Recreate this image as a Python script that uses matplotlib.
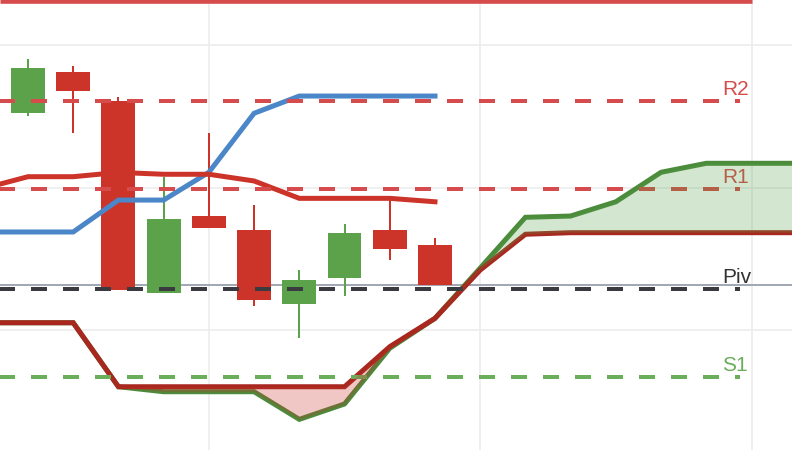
import numpy as np
import matplotlib
matplotlib.use("Agg")
import matplotlib.pyplot as plt
import matplotlib.transforms as mtransforms

plt.rcParams['lines.scale_dashes'] = False
plt.rcParams['font.family'] = ['Liberation Sans', 'DejaVu Sans']

# ---- data ----
candle_idx = [0, 1, 2, 3, 4, 5, 6, 7, 8, 9]
opens  = [115.25, 118.11, 116.09, 102.62, 108.00, 107.02, 101.85, 103.67, 107.02, 105.96]
highs  = [119.02, 118.53, 116.33, 110.76, 113.85, 108.77, 104.21, 107.44, 109.12, 106.46]
lows   = [115.04, 113.85, 102.83, 102.62, 107.16, 101.71, 99.42, 102.41, 104.93, 103.16]
closes = [118.39, 116.79, 102.83, 107.79, 107.16, 102.13, 103.51, 106.81, 105.71, 103.16]

line_idx = [-1, 0, 1, 2, 3, 4, 5, 6, 7, 8, 9]
blue_line = [106.88, 106.88, 106.88, 109.12, 109.12, 111.07, 115.21, 116.42, 116.42, 116.42, 116.42]
red_line  = [109.92, 110.76, 110.76, 111.06, 110.93, 110.93, 110.46, 109.24, 109.24, 109.24, 109.00]

cloud_idx = [-1, 0, 1, 2, 3, 4, 5, 6, 7, 8, 9, 10, 11, 12, 13, 14, 15, 16, 17]
span_a = [100.51, 100.51, 100.51, 96.02, 95.67, 95.67, 95.67, 93.73, 94.81, 98.72, 100.82,
          104.35, 107.91, 108.00, 109.00, 111.07, 111.70, 111.70, 111.70]
span_b = [100.51, 100.51, 100.51, 96.02, 96.02, 96.02, 96.02, 96.02, 96.02, 98.83, 100.82,
          104.21, 106.72, 106.83, 106.83, 106.83, 106.83, 106.83, 106.83]

pivot_names  = ["R2", "R1", "Piv", "S1"]
pivot_values = [116.10, 109.90, 102.90, 96.72]
r3_value = 123.09
last_price = 103.16
grid_y = [100, 110, 120]
grid_x = [4, 10, 16]

# ---- styling ----
C_UP = "#5ba24a"
C_DN = "#cc3329"
C_BLUE = "#4a86c8"
C_RED = "#cc3329"
C_SPAN_A = "#4b8b3b"
C_SPAN_B = "#a8281f"
pivot_colors = ["#d64b4b", "#d64b4b", "#3a3b40", "#6aae5c"]
label_colors = ["#d64b4b", "#d64b4b", "#333333", "#6aae5c"]

DPI = 100
px = 72.0 / DPI  # points per pixel

fig = plt.figure(figsize=(7.92, 4.5), dpi=DPI)
ax = fig.add_axes([0, 0, 1, 1])
ax.set_xlim(-0.619, 16.895)
ax.set_ylim(91.58, 123.16)
ax.axis('off')

# grid
for gy in grid_y:
    ax.axhline(gy, color="#ececec", lw=1.6 * px, zorder=0)
for gx in grid_x:
    ax.axvline(gx, color="#ececec", lw=1.6 * px, zorder=0)

# last price line
ax.axhline(last_price, color="#a3a8b5", lw=2 * px, zorder=1)

# R3 line at top
ax.plot([-0.62, 16.01], [r3_value, r3_value], color="#d64b4b", lw=4.6 * px,
        solid_capstyle='butt', zorder=1, clip_on=False)

# candles
o = np.array(opens); c = np.array(closes); h = np.array(highs); l = np.array(lows)
cols = [C_UP if cc >= oo else C_DN for oo, cc in zip(o, c)]
ax.vlines(candle_idx, l, h, colors=cols, lw=2 * px, zorder=2)
ax.bar(candle_idx, np.abs(c - o), bottom=np.minimum(o, c), width=0.75,
       color=cols, edgecolor='none', zorder=2.1)

# lines
ax.plot(line_idx, blue_line, color=C_BLUE, lw=5 * px, zorder=3, solid_joinstyle='miter')
ax.plot(line_idx, red_line, color=C_RED, lw=5 * px, zorder=3, solid_joinstyle='miter')
ax.plot(cloud_idx, span_a, color=C_SPAN_A, lw=5 * px, zorder=3, solid_joinstyle='miter')
ax.plot(cloud_idx, span_b, color=C_SPAN_B, lw=5 * px, zorder=3.1, solid_joinstyle='miter')

# pivot dashed lines and labels
off = mtransforms.offset_copy(ax.transData, fig=fig, x=0, y=6, units='dots')
for name, val, col, lcol in zip(pivot_names, pivot_values, pivot_colors, label_colors):
    ax.plot([-0.885, 15.745], [val, val], color=col, lw=4 * px,
            linestyle=(0, (16 * px, 16 * px)),
            solid_capstyle='butt', dash_capstyle='butt', zorder=4)
    ax.text(15.35, val, name, color=lcol, fontsize=15, ha='left', va='baseline',
            transform=off, zorder=4.5)

# cloud fill
A = np.array(span_a); B = np.array(span_b)
ax.fill_between(cloud_idx, A, B, where=A >= B, interpolate=True,
                color="#529d43", alpha=0.25, lw=0, zorder=6)
ax.fill_between(cloud_idx, A, B, where=A < B, interpolate=True,
                color="#cc3329", alpha=0.27, lw=0, zorder=6)

fig.savefig("out.png", dpi=DPI)
